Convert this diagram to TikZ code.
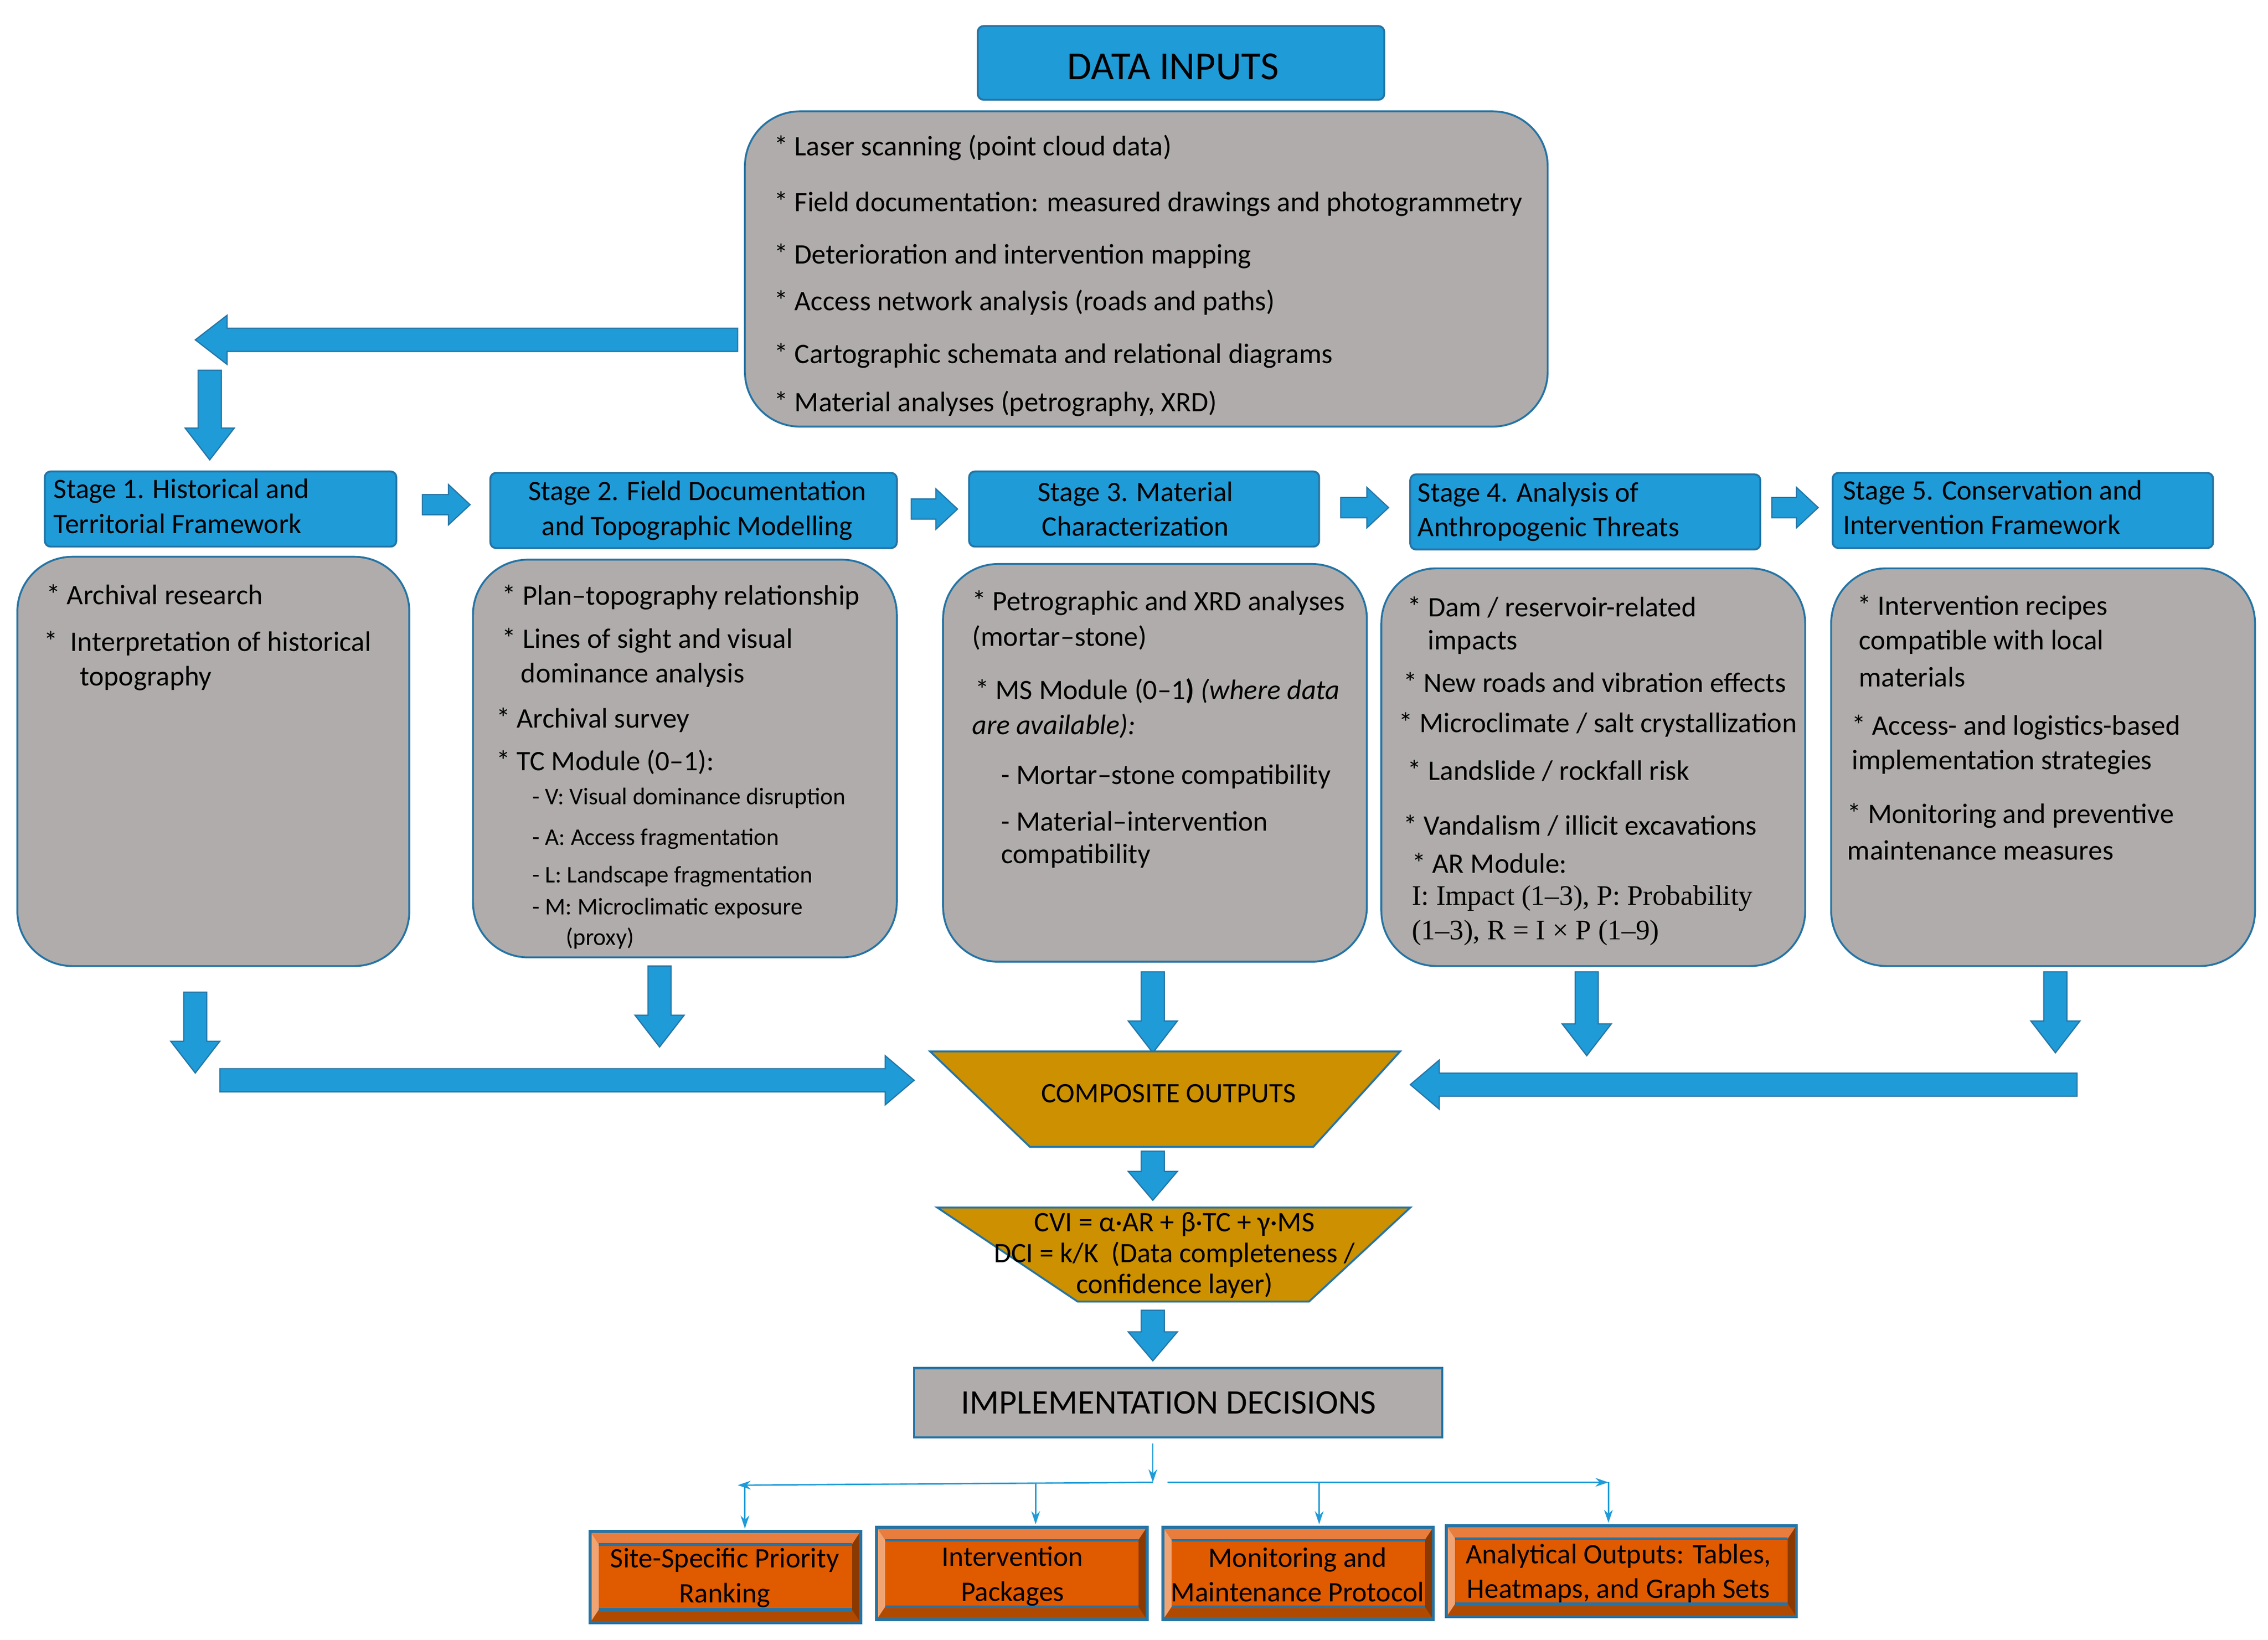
\documentclass[tikz,border=0pt]{standalone}
\usepackage{fontspec}
\setmainfont{Carlito}
\newfontfamily\tnr{Liberation Serif}
\usetikzlibrary{arrows.meta}
\definecolor{ablue}{HTML}{1F9BD7}
\definecolor{bdark}{HTML}{2574A5}
\definecolor{gbox}{HTML}{B0ACAB}
\definecolor{gold}{HTML}{CC9000}
\definecolor{orm}{HTML}{E05A00}
\definecolor{orl}{HTML}{E87D3E}
\definecolor{orp}{HTML}{F0A474}
\definecolor{ord}{HTML}{B04A00}
\definecolor{ordd}{HTML}{8A3A00}
\newcommand\varrow[6]{\fill[ablue,draw=bdark,line width=0.8] ({#1-#4},#2) -- ({#1+#4},#2) -- ({#1+#4},{#3-#6}) -- ({#1+#5},{#3-#6}) -- (#1,#3) -- ({#1-#5},{#3-#6}) -- ({#1-#4},{#3-#6}) -- cycle;}
\newcommand\harrow[6]{\fill[ablue,draw=bdark,line width=0.8] (#2,{#1-#4}) -- (#2,{#1+#4}) -- ({#3-#6*sign(#3-#2)},{#1+#4}) -- ({#3-#6*sign(#3-#2)},{#1+#5}) -- (#3,#1) -- ({#3-#6*sign(#3-#2)},{#1-#5}) -- ({#3-#6*sign(#3-#2)},{#1-#4}) -- cycle;}
\newcommand\bevbox[5]{% name, x1,y1,x2,y2
 \fill[ord] (#2,#3) rectangle (#4,#5);
 \fill[orl] (#2,#3) -- (#4,#3) -- ({#4-6},{#3+9}) -- ({#2+6},{#3+9}) -- cycle;
 \fill[orp] (#2,#3) -- ({#2+6},{#3+9}) -- ({#2+6},{#5-9}) -- (#2,#5) -- cycle;
 \fill[ordd] (#4,#3) -- ({#4-6},{#3+9}) -- ({#4-6},{#5-9}) -- (#4,#5) -- cycle;
 \fill[orm] ({#2+6},{#3+9}) rectangle ({#4-6},{#5-9});
 \draw[bdark,line width=2] ({#2+6},{#3+9}) -- ({#4-6},{#3+9}) ({#2+6},{#5-9}) -- ({#4-6},{#5-9});
 \draw[bdark,line width=2] (#2,#3) rectangle (#4,#5);
 \node[inner sep=0,minimum width={#4-#2},minimum height={#5-#3}] (#1) at ({(#2+#4)/2},{(#3+#5)/2}) {};}
\begin{document}
\begin{tikzpicture}[x=1pt,y=-1pt,
 gb/.style={fill=gbox,draw=bdark,line width=1.3,rounded corners=38pt},
 hd/.style={fill=ablue,draw=bdark,line width=1.3,rounded corners=4pt},
 t/.style={anchor=west,inner sep=0,font=\fontsize{19.5}{22}\selectfont},
 ts/.style={anchor=west,inner sep=0,font=\fontsize{16.5}{19}\selectfont},
 th/.style={inner sep=0,font=\fontsize{19.5}{24}\selectfont,align=left},
 tb/.style={inner sep=0,font=\fontsize{19.5}{24}\selectfont,align=center},
 thin/.style={ablue,line width=1,-{Stealth[length=9pt,width=6pt]}}]
\useasboundingbox (0,0) rectangle (1568,1134);
% data inputs
\draw[hd] (676,18) rectangle (957,69);
\node[inner sep=0,font=\fontsize{27.5}{30}\selectfont] (di) at (811,46) {DATA INPUTS};
\draw[gb] (515,77) rectangle (1070,295);
\node[t] (d1) at (535,102) {* Laser scanning (point cloud data)};
\node[t] (d2) at (535,141) {* Field documentation: measured drawings and photogrammetry};
\node[t] (d3) at (535,177) {* Deterioration and intervention mapping};
\node[t] (d4) at (535,209) {* Access network analysis (roads and paths)};
\node[t] (d5) at (535,246) {* Cartographic schemata and relational diagrams};
\node[t] (d6) at (535,279) {* Material analyses (petrography, XRD)};
\harrow{235}{510}{135}{8}{17}{22}
\varrow{145}{256}{318}{8}{17}{22}
% stage headers
\draw[hd] (31,326) rectangle (274,378);
\node[th,anchor=west] (s1) at (37,350) {Stage 1. Historical and\\Territorial Framework};
\draw[hd] (339,327) rectangle (620,379);
\node[th,align=center] (s2) at (482,353) {Stage 2. Field Documentation\\and Topographic Modelling};
\draw[hd] (670,326) rectangle (912,378);
\node[th,align=center] (s3) at (785,352) {Stage 3. Material\\Characterization};
\draw[hd] (975,328) rectangle (1217,380);
\node[th,anchor=west] (s4) at (980,354) {Stage 4. Analysis of\\Anthropogenic Threats};
\draw[hd] (1267,327) rectangle (1530,379);
\node[th,anchor=west] (s5) at (1274,351) {Stage 5. Conservation and\\Intervention Framework};
\harrow{349}{292}{325}{7}{14}{15}
\harrow{352}{630}{662}{7}{14}{15}
\harrow{351}{927}{960}{7}{14}{15}
\harrow{351}{1225}{1257}{7}{14}{15}
% boxes
\draw[gb] (12,385) rectangle (283,668);
\node[t] (a1) at (32,411) {* Archival research};
\node[t] (a2) at (30,445) {*\ \ Interpretation of historical};
\node[t] (a3) at (55,469) {topography};
\draw[gb] (327,387) rectangle (620,662);
\node[t] (b1) at (347,413) {* Plan–topography relationship};
\node[t] (b2) at (347,443) {* Lines of sight and visual};
\node[t] (b3) at (360,467) {dominance analysis};
\node[t] (b4) at (343,498) {* Archival survey};
\node[t] (b5) at (343,527) {* TC Module (0–1):};
\node[ts] (b6) at (368,552) {- V: Visual dominance disruption};
\node[ts] (b7) at (368,580) {- A: Access fragmentation};
\node[ts] (b8) at (368,606) {- L: Landscape fragmentation};
\node[ts] (b9) at (368,628) {- M: Microclimatic exposure};
\node[ts] (b10) at (391,649) {(proxy)};
\draw[gb] (652,390) rectangle (945,665);
\node[t] (c1) at (672,417) {* Petrographic and XRD analyses};
\node[t] (c2) at (672,441) {(mortar–stone)};
\node[t] (c3) at (674,478) {* MS Module (0–1\textbf{)} \textit{(where data}};
\node[t] (c4) at (672,502) {\textit{are available):}};
\node[t] (c5) at (692,537) {- Mortar–stone compatibility};
\node[t] (c6) at (692,568) {- Material–intervention};
\node[t] (c7) at (692,592) {compatibility};
\draw[gb] (955,393) rectangle (1248,668);
\node[t] (e1) at (973,420) {* Dam / reservoir-related};
\node[t] (e2) at (987,444) {impacts};
\node[t] (e3) at (970,472) {* New roads and vibration effects};
\node[t] (e4) at (967,501) {* Microclimate / salt crystallization};
\node[t] (e5) at (973,533) {* Landslide / rockfall risk};
\node[t] (e6) at (970,571) {* Vandalism / illicit excavations};
\node[t] (e7) at (976,597) {* AR Module:};
\node[t,font=\tnr\fontsize{19.5}{22}\selectfont] (e8) at (976,621) {I: Impact (1–3), P: Probability};
\node[t,font=\tnr\fontsize{19.5}{22}\selectfont] (e9) at (976,645) {(1–3), R = I × P (1–9)};
\draw[gb] (1266,393) rectangle (1559,668);
\node[t] (f1) at (1284,420) {* Intervention recipes};
\node[t] (f2) at (1285,444) {compatible with local};
\node[t] (f3) at (1285,468) {materials};
\node[t] (f4) at (1280,503) {* Access- and logistics-based};
\node[t] (f5) at (1280,527) {implementation strategies};
\node[t] (f6) at (1277,564) {* Monitoring and preventive};
\node[t] (f7) at (1277,588) {maintenance measures};
% down arrows
\varrow{135}{686}{742}{8}{17}{22}
\varrow{456}{668}{724}{8}{17}{22}
\varrow{797}{672}{728}{8}{17}{22}
\varrow{1097}{672}{730}{8}{17}{22}
\varrow{1421}{672}{728}{8}{17}{22}
\harrow{747}{152}{632}{8}{17}{20}
\harrow{750}{1436}{975}{8}{17}{20}
% composite
\draw[fill=gold,draw=bdark,line width=1.3] (643,727) -- (968,727) -- (908,793) -- (712,793) -- cycle;
\node[inner sep=0,font=\fontsize{19.5}{22}\selectfont] (co) at (808,756) {COMPOSITE OUTPUTS};
\varrow{797}{796}{830}{8}{17}{20}
\draw[fill=gold,draw=bdark,line width=1.3] (648,835) -- (975,835) -- (905,900) -- (745,900) -- cycle;
\node[inner sep=0,font=\fontsize{19.5}{21.5}\selectfont,align=center] (cvi) at (812,868) {CVI = α·AR + β·TC + γ·MS\\DCI = k/K\ \ (Data completeness /\\confidence layer)};
\varrow{797}{906}{941}{8}{17}{20}
% implementation
\draw[fill=gbox,draw=bdark,line width=1.5] (632,946) rectangle (997,994);
\node[inner sep=0,font=\fontsize{23.8}{26}\selectfont] (imp) at (808,970) {IMPLEMENTATION DECISIONS};
\coordinate (j) at (797,1025);
\coordinate (jl) at (510,1027);
\coordinate (jr) at (1112,1025);
\draw[thin] (797,998) -- (j);
\draw[thin] (797,1025) -- (jl);
\draw[thin] (807,1025) -- (jr);
% bottom boxes
\bevbox{o1}{408}{1059}{595}{1122}
\bevbox{o2}{606}{1056}{793}{1120}
\bevbox{o3}{804}{1056}{991}{1120}
\bevbox{o4}{1000}{1055}{1242}{1118}
\draw[thin] (515,1027) -- (515,1057);
\draw[thin] (716,1026) -- (716,1054);
\draw[thin] (912,1025) -- (912,1054);
\draw[thin] (1112,1025) -- (1112,1053);
\node[tb] (o1t) at (501,1091) {Site-Specific Priority\\Ranking};
\node[tb] (o2t) at (700,1090) {Intervention\\Packages};
\node[tb] (o3t) at (897,1089) {Monitoring and\\Maintenance Protocol};
\node[tb] (o4t) at (1119,1088) {Analytical Outputs: Tables,\\Heatmaps, and Graph Sets};
\end{tikzpicture}
\end{document}
